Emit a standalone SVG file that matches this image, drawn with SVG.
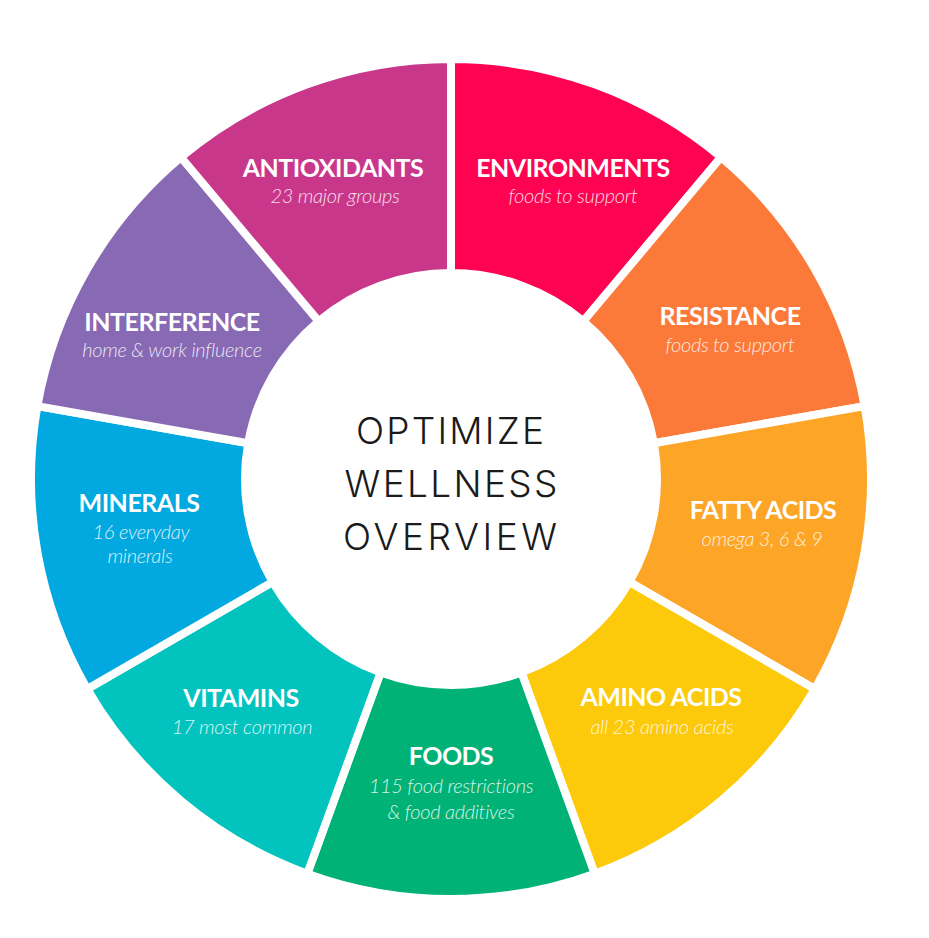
<svg xmlns="http://www.w3.org/2000/svg" width="929" height="938" viewBox="0 0 929 938">
<style>
.seg{stroke:#fff;stroke-width:8;stroke-linejoin:miter}
.t{font-family:Lato,"Open Sans","Liberation Sans",sans-serif;font-weight:700;font-size:25px;fill:#fff;text-anchor:middle;letter-spacing:-0.5px}
.s{font-family:Lato,"Open Sans","Liberation Sans",sans-serif;font-weight:300;font-style:italic;font-size:20px;fill:#fff;fill-opacity:0.85;text-anchor:middle;letter-spacing:-0.3px}
.c{font-family:Inter,"Liberation Sans",sans-serif;font-weight:300;font-size:37px;fill:#1a1a1a;text-anchor:middle}
</style>
<rect width="929" height="938" fill="#fff"/>
<g id="environments">
<path class="seg" fill="#FE0352" d="M451,59 A420,420 0 0 1 720.97,157.26 L583.41,321.19 A206,206 0 0 0 451,273 Z"/>
<text class="t" x="573" y="177">ENVIRONMENTS</text>
<text class="s" x="573" y="203">foods to support</text>
</g>
<g id="resistance">
<path class="seg" fill="#FC7A39" d="M720.97,157.26 A420,420 0 0 1 864.62,406.07 L653.87,443.23 A206,206 0 0 0 583.41,321.19 Z"/>
<text class="t" x="730" y="325">RESISTANCE</text>
<text class="s" x="730" y="352">foods to support</text>
</g>
<g id="fatty-acids">
<path class="seg" fill="#FDA527" d="M864.62,406.07 A420,420 0 0 1 814.73,689 L629.40,582 A206,206 0 0 0 653.87,443.23 Z"/>
<text class="t" x="763" y="519">FATTY ACIDS</text>
<text class="s" x="762" y="546">omega 3, 6 &amp; 9</text>
</g>
<g id="amino-acids">
<path class="seg" fill="#FCC90B" d="M814.73,689 A420,420 0 0 1 594.65,873.67 L521.46,672.58 A206,206 0 0 0 629.40,582 Z"/>
<text class="t" x="661" y="706">AMINO ACIDS</text>
<text class="s" x="662" y="734">all 23 amino acids</text>
</g>
<g id="foods">
<path class="seg" fill="#01B276" d="M594.65,873.67 A420,420 0 0 1 307.35,873.67 L380.54,672.58 A206,206 0 0 0 521.46,672.58 Z"/>
<text class="t" x="451" y="765">FOODS</text>
<text class="s" x="451" y="793">115 food restrictions</text>
<text class="s" x="451" y="819">&amp; food additives</text>
</g>
<g id="vitamins">
<path class="seg" fill="#03C3BF" d="M307.35,873.67 A420,420 0 0 1 87.27,689 L272.60,582 A206,206 0 0 0 380.54,672.58 Z"/>
<text class="t" x="241" y="707">VITAMINS</text>
<text class="s" x="242" y="734">17 most common</text>
</g>
<g id="minerals">
<path class="seg" fill="#02A9E0" d="M87.27,689 A420,420 0 0 1 37.38,406.07 L248.13,443.23 A206,206 0 0 0 272.60,582 Z"/>
<text class="t" x="139" y="512">MINERALS</text>
<text class="s" x="141" y="539">16 everyday</text>
<text class="s" x="140" y="563">minerals</text>
</g>
<g id="interference">
<path class="seg" fill="#8769B4" d="M37.38,406.07 A420,420 0 0 1 181.03,157.26 L318.59,321.19 A206,206 0 0 0 248.13,443.23 Z"/>
<text class="t" x="172" y="331">INTERFERENCE</text>
<text class="s" x="172" y="357">home &amp; work influence</text>
</g>
<g id="antioxidants">
<path class="seg" fill="#C9378B" d="M181.03,157.26 A420,420 0 0 1 451,59 L451,273 A206,206 0 0 0 318.59,321.19 Z"/>
<text class="t" x="333" y="177">ANTIOXIDANTS</text>
<text class="s" x="335" y="203">23 major groups</text>
</g>
<g id="center">
<text class="c" x="450" y="444" textLength="188" lengthAdjust="spacing">OPTIMIZE</text>
<text class="c" x="451" y="497" textLength="213" lengthAdjust="spacing">WELLNESS</text>
<text class="c" x="450" y="550" textLength="214" lengthAdjust="spacing">OVERVIEW</text>
</g>
</svg>
